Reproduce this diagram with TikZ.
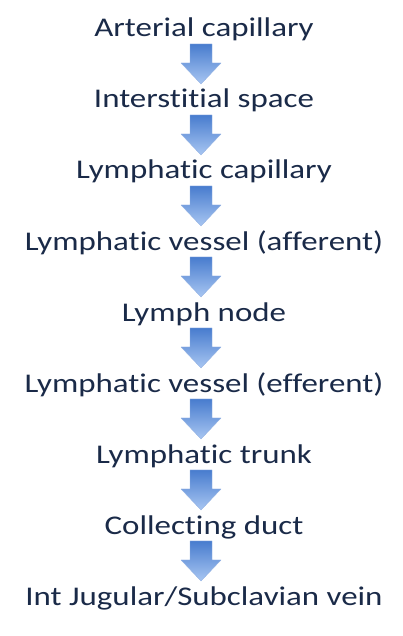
\documentclass[tikz,border=0pt]{standalone}
\usepackage{fontspec}
\setmainfont{Carlito}[Ligatures=NoCommon, FakeStretch=1.22]
\definecolor{labelnavy}{RGB}{26,42,72}
\definecolor{arrowtop}{RGB}{72,124,206}
\definecolor{arrowbottom}{RGB}{168,198,242}
\tikzset{
	steplabel/.style={anchor=base, text=labelnavy, inner sep=0pt, font=\fontsize{27}{31}\selectfont},
	blockarrow/.style={top color=arrowtop, bottom color=arrowbottom, draw=arrowtop!60, line width=0.4pt, line join=round}
}
\begin{document}
\begin{tikzpicture}[x=1pt,y=1pt]
			\useasboundingbox (0,0) rectangle (402,-636);
			% Steps from top to bottom
			\foreach \txt [count=\i] in {Arterial capillary, Interstitial space, Lymphatic capillary,
				Lymphatic vessel (afferent), Lymph node, Lymphatic vessel (efferent),
				Lymphatic trunk, Collecting duct, Int Jugular/Subclavian vein}{
				\node[steplabel] (s\i) at (204,{-37-71*(\i-1)}) {\txt};
			}
			% Block arrows between steps
			\foreach \i [evaluate=\i as \j using int(\i+1)] in {1,...,8}{
				\path (s\i.base) -- (s\j.base) coordinate[pos=0.38] (m\i);
				\shade[blockarrow] ([shift={(-14,20)}]m\i) -- ++(22,0) -- ++(0,-19) -- ++(9,0)
					-- ++(-20,-21) -- ++(-20,21) -- ++(9,0) -- cycle;
			}
\end{tikzpicture}
\end{document}
